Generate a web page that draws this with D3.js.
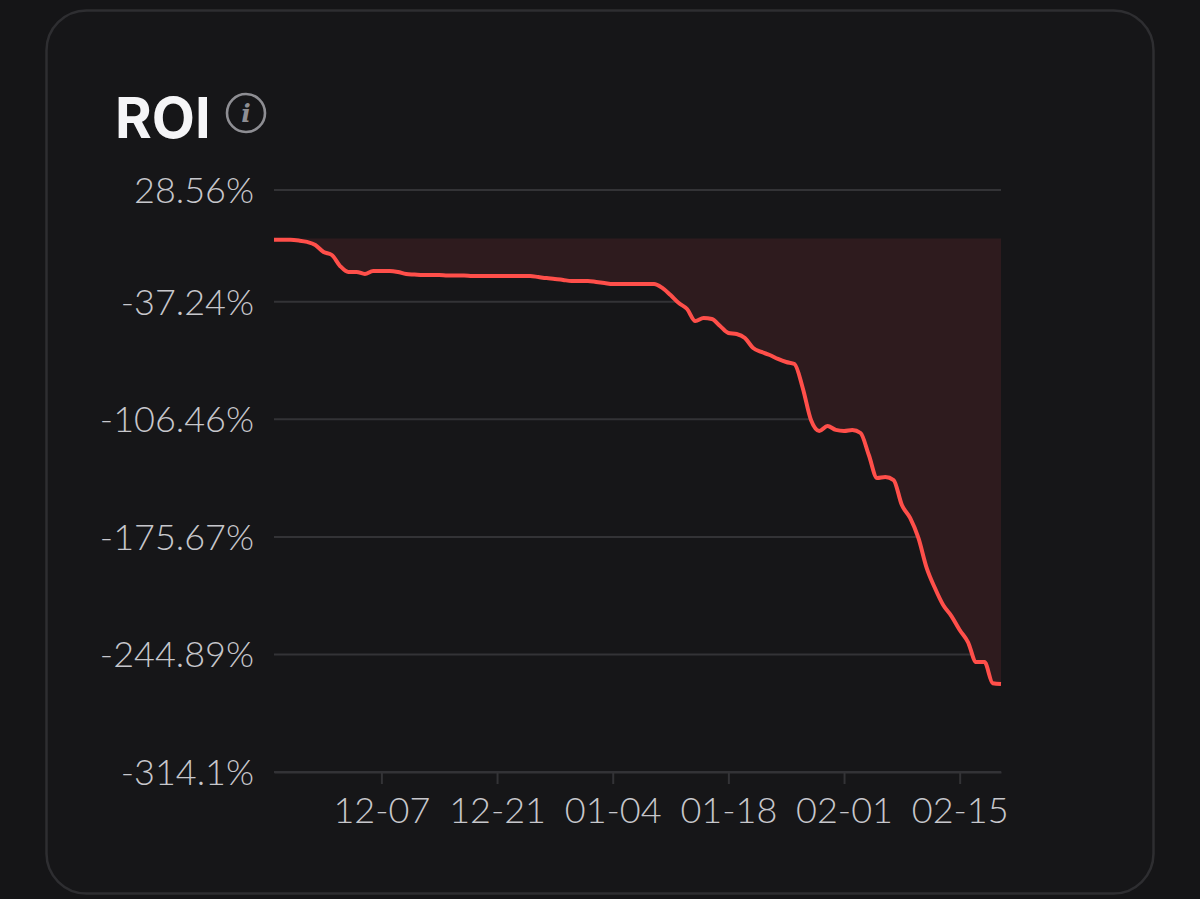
<!DOCTYPE html>
<html>
<head>
<meta charset="utf-8">
<script src="https://cdn.jsdelivr.net/npm/d3@7/dist/d3.min.js"></script>
<style>
  html, body { margin: 0; padding: 0; background: #151517; }
  svg { display: block; }
</style>
</head>
<body>
<svg id="chart" width="1200" height="899"></svg>
<script>
// ---- data ----
const startDate = "2023-11-24";
const roiValues = [
  -0.8, -0.8, -0.8, -1.2, -2.0, -3.8, -7.9, -9.7, -16.2, -19.7,
  -19.7, -20.9, -19.1, -19.1, -19.1, -19.7, -20.9, -21.2, -21.5, -21.5,
  -21.5, -21.8, -21.8, -21.8, -22.1, -22.1, -22.1, -22.1, -22.1, -22.1,
  -22.1, -22.1, -22.7, -23.3, -23.8, -24.4, -25.0, -25.0, -25.0, -25.6,
  -26.2, -26.8, -26.8, -26.8, -26.8, -26.8, -26.8, -29.1, -33.3, -38.0,
  -41.5, -48.6, -46.8, -47.4, -51.5, -55.6, -56.2, -58.6, -64.5, -66.8,
  -68.6, -70.9, -72.7, -73.9, -88.0, -106.9, -113.3, -110.4, -112.7, -113.3,
  -112.7, -114.5, -127.5, -141.0, -140.4, -142.2, -156.9, -164.5, -176.3, -193.9,
  -205.8, -215.8, -222.3, -230.5, -237.6, -249.4, -249.4, -261.8, -262.3
];
const yTickValues = [28.56, -37.24, -106.46, -175.67, -244.89, -314.1];
const yTickLabels = ["28.56%", "-37.24%", "-106.46%", "-175.67%", "-244.89%", "-314.1%"];
const xTickDates = ["2023-12-07", "2023-12-21", "2024-01-04", "2024-01-18", "2024-02-01", "2024-02-15"];
const xTickLabels = ["12-07", "12-21", "01-04", "01-18", "02-01", "02-15"];
const titleText = "ROI";

// ---- build ----
const parse = d3.utcParse("%Y-%m-%d");
const t0 = parse(startDate);
const data = roiValues.map((v, i) => ({ date: d3.utcDay.offset(t0, i), value: v }));

const svg = d3.select("#chart");

// card
svg.append("rect")
  .attr("x", 0).attr("y", 0).attr("width", 1200).attr("height", 899)
  .attr("fill", "#151517");
svg.append("rect")
  .attr("x", 46.5).attr("y", 10.5).attr("width", 1107).attr("height", 883)
  .attr("rx", 40).attr("ry", 40)
  .attr("fill", "#161618")
  .attr("stroke", "#2e2e31").attr("stroke-width", 2.5);

// title
svg.append("text")
  .attr("x", 115).attr("y", 138)
  .attr("font-family", "Inter, 'Noto Sans', sans-serif")
  .attr("font-weight", 700)
  .attr("font-size", 56)
  .attr("fill", "#f5f5f7")
  .text(titleText);

// info icon
const info = svg.append("g").attr("transform", "translate(246,113)");
info.append("circle").attr("r", 19)
  .attr("fill", "none").attr("stroke", "#8e8e93").attr("stroke-width", 2.6);
info.append("text")
  .attr("x", 0).attr("y", 9)
  .attr("text-anchor", "middle")
  .attr("font-family", "'DejaVu Serif', serif")
  .attr("font-style", "italic")
  .attr("font-weight", 700)
  .attr("font-size", 25)
  .attr("fill", "#8e8e93")
  .text("i");

// scales
const x = d3.scaleUtc()
  .domain([data[0].date, data[data.length - 1].date])
  .range([274, 1001]);
const y = d3.scaleLinear()
  .domain([-314.1, 28.56])
  .range([772, 190]);

// gridlines
svg.append("g")
  .selectAll("line")
  .data(yTickValues)
  .join("line")
  .attr("x1", 274).attr("x2", 1001)
  .attr("y1", d => y(d)).attr("y2", d => y(d))
  .attr("stroke", "#333336").attr("stroke-width", 2);

// y labels
svg.append("g")
  .selectAll("text")
  .data(yTickValues)
  .join("text")
  .attr("x", 254)
  .attr("y", d => y(d))
  .attr("dy", "0.36em")
  .attr("text-anchor", "end")
  .attr("font-family", "Lato, 'Open Sans', sans-serif")
  .attr("font-weight", 300)
  .attr("font-size", 36)
  .attr("fill", "#c7c7cc")
  .text((d, i) => yTickLabels[i]);

// area
const area = d3.area()
  .x(d => x(d.date))
  .y0(y(0))
  .y1(d => y(d.value))
  .curve(d3.curveMonotoneX);
svg.append("path")
  .datum(data)
  .attr("d", area)
  .attr("fill", "#2e1b1e");

// line
const line = d3.line()
  .x(d => x(d.date))
  .y(d => y(d.value))
  .curve(d3.curveMonotoneX);
svg.append("path")
  .datum(data)
  .attr("d", line)
  .attr("fill", "none")
  .attr("stroke", "#ff4f4a")
  .attr("stroke-width", 4)
  .attr("stroke-linejoin", "round")
  .attr("stroke-linecap", "butt");

// x axis
const xAxis = d3.axisBottom(x)
  .tickValues(xTickDates.map(parse))
  .tickFormat((d, i) => xTickLabels[i])
  .tickSize(12)
  .tickSizeOuter(0)
  .tickPadding(13);
const gx = svg.append("g")
  .attr("transform", `translate(0,${y(-314.1)})`)
  .call(xAxis);
gx.select(".domain").attr("stroke", "#333336").attr("stroke-width", 2);
gx.selectAll(".tick line").attr("stroke", "#333336").attr("stroke-width", 2);
gx.selectAll(".tick text")
  .attr("font-family", "Lato, 'Open Sans', sans-serif")
  .attr("font-weight", 300)
  .attr("font-size", 36)
  .attr("fill", "#c7c7cc");
</script>
</body>
</html>
